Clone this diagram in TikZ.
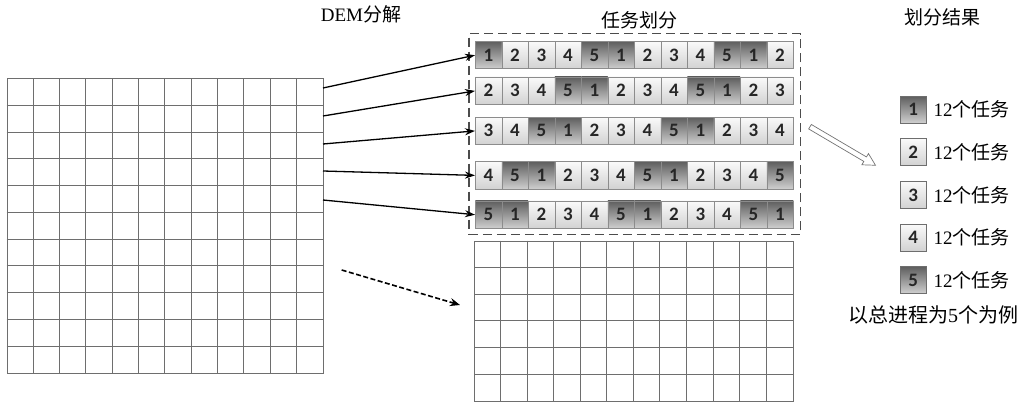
\documentclass[tikz,border=0pt]{standalone}
\usepackage{fontspec}
\setmainfont{Liberation Serif}
\newfontfamily\cjk{Noto Sans CJK SC}
\newfontfamily\numfont{Carlito}
\usetikzlibrary{arrows.meta,calc}
\definecolor{gridc}{HTML}{6E6E6E}
\definecolor{cellb}{HTML}{8C8C8C}
\definecolor{darktop}{HTML}{5E5E5E}
\definecolor{darkbot}{HTML}{CFCFCF}
\definecolor{lighttop}{HTML}{FAFAFA}
\definecolor{lightbot}{HTML}{D2D2D2}
\tikzset{
  gridbox/.style={draw=gridc, line width=0.9pt, inner sep=0pt, anchor=north west},
  gridline/.style={draw=gridc, line width=0.9pt},
  rowbox/.style={draw=cellb, line width=0.9pt, inner sep=0pt, anchor=north west, minimum width=318, minimum height=27.5},
  cellbase/.style={draw=cellb, line width=0.6pt, inner sep=0pt, anchor=north west, minimum width=26.5, minimum height=27.5, font=\numfont\bfseries\fontsize{19}{19}\selectfont, text=black!85},
  dcell/.style={cellbase, top color=darktop, bottom color=darkbot},
  lcell/.style={cellbase, top color=lighttop, bottom color=lightbot},
  legd/.style={dcell, draw=gridc, minimum width=26.5, minimum height=27, anchor=center},
  legl/.style={lcell, draw=gridc, minimum width=26.5, minimum height=27, anchor=center},
  legtext/.style={anchor=west, font=\fontsize{19}{19}\selectfont, inner sep=0pt},
  title/.style={font=\fontsize{19}{19}\selectfont, inner sep=0pt},
  conn/.style={line width=1.3pt, -{Stealth[length=10pt,width=7pt]}},
  dconn/.style={line width=1.6pt, dash pattern=on 5pt off 2.5pt, -{Stealth[length=10pt,width=8pt]}},
}
\begin{document}
\begin{tikzpicture}[x=1pt,y=-1pt]
\useasboundingbox (0,0) rectangle (1023,404);
% titles
\node[title] (t1) at (361,14) {DEM{\cjk 分解}};
\node[title] (t2) at (639,20) {\cjk 任务划分};
\node[title] (t3) at (942,17.5) {\cjk 划分结果};
% left grid
\node[gridbox, minimum width=316.3, minimum height=294.5] (L) at (6.7,78.5) {};
\foreach \i in {1,...,11} {
  \draw[gridline] ({6.7+\i*26.36},78.5) -- ({6.7+\i*26.36},373);
}
\foreach \j in {1,...,10} {
  \draw[gridline] (6.7,{78.5+\j*26.77}) -- (323,{78.5+\j*26.77});
}
% bottom middle grid
\node[gridbox, minimum width=318.7, minimum height=160] (B) at (474,240.7) {};
\foreach \i in {1,...,11} {
  \draw[gridline] ({474+\i*26.56},240.7) -- ({474+\i*26.56},400.7);
}
\foreach \j in {1,...,5} {
  \draw[gridline] (474,{240.7+\j*26.67}) -- (792.7,{240.7+\j*26.67});
}
% dashed frame
\node[draw=black!70, line width=1.2pt, dash pattern=on 9pt off 5pt, inner sep=0pt, anchor=north west, minimum width=331.5, minimum height=201] (F) at (468.3,33) {};
% task rows
\foreach \r/\top/\seq in {1/41/{1,2,3,4,5,1,2,3,4,5,1,2},
                          2/76.7/{2,3,4,5,1,2,3,4,5,1,2,3},
                          3/116.7/{3,4,5,1,2,3,4,5,1,2,3,4},
                          4/161.2/{4,5,1,2,3,4,5,1,2,3,4,5},
                          5/200.5/{5,1,2,3,4,5,1,2,3,4,5,1}} {
  \foreach \v [count=\k from 0] in \seq {
    \ifnum\v=1 \def\cst{dcell}\else\ifnum\v=5 \def\cst{dcell}\else\def\cst{lcell}\fi\fi
    \node[\cst] (c\r-\k) at ({475+\k*26.5},\top) {\v};
  }
  \node[rowbox] (r\r) at (475,\top) {};
}
% arrows from left grid
\coordinate (s1) at (323,88);
\coordinate (s2) at (323,116);
\coordinate (s3) at (323,144);
\coordinate (s4) at (323,171);
\coordinate (s5) at (323,200);
\foreach \r in {1,...,5} { \draw[conn] (s\r) -- (r\r.west); }
% dashed arrow
\coordinate (d1) at (341.7,270);
\coordinate (d2) at (460,305);
\draw[dconn] (d1) -- (d2);
% hollow arrow
\begin{scope}[shift={(810,126.7)}, rotate=-30.5]
  \draw[draw=black!55, line width=0.7pt, fill=white] (0,-2.6) -- (64,-2.6) -- (64,-6.5) -- (76,0) -- (64,6.5) -- (64,2.6) -- (0,2.6) -- cycle;
\end{scope}
% legend
\node[legd] (g1) at (913.3,109.5) {1};
\node[legl] (g2) at (913.3,152) {2};
\node[legl] (g3) at (913.3,195) {3};
\node[legl] (g4) at (913.3,237.5) {4};
\node[legd] (g5) at (913.3,280) {5};
\foreach \i in {1,...,5} { \node[legtext] (gt\i) at ([xshift=6.5pt]g\i.east) {12{\cjk 个任务}}; }
\node[legtext, anchor=center, font=\fontsize{20}{20}\selectfont] (note) at (933,315) {{\cjk 以总进程为}5{\cjk 个为例}};
\end{tikzpicture}
\end{document}
